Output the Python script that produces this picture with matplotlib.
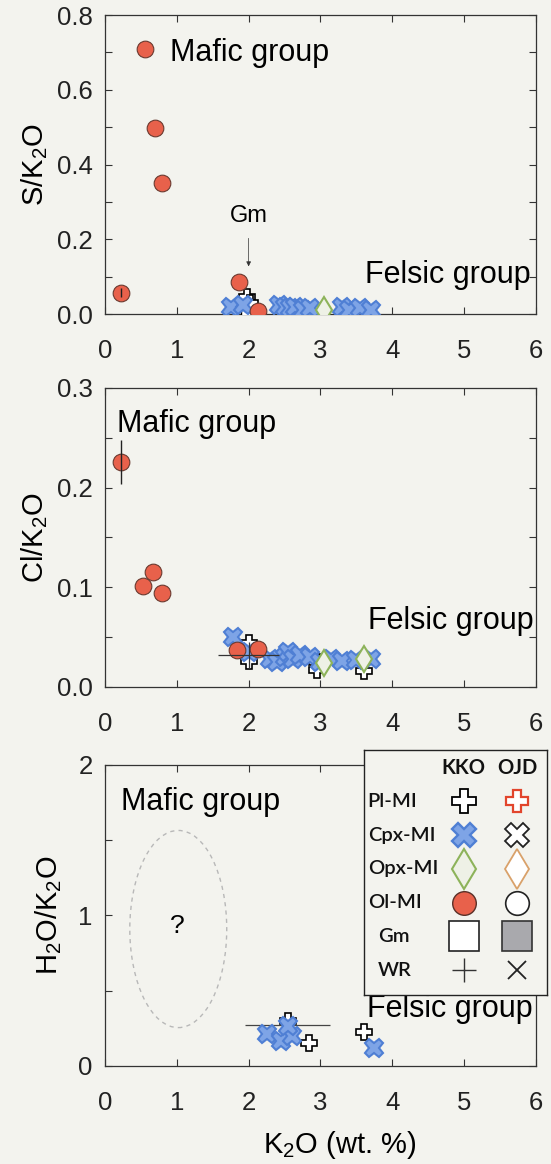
import matplotlib
matplotlib.use("Agg")
import matplotlib.pyplot as plt
from matplotlib.patches import Ellipse

plt.rcParams['font.family'] = ['Liberation Sans', 'DejaVu Sans']
plt.rcParams['mathtext.fontset'] = 'custom'
plt.rcParams['mathtext.rm'] = 'Liberation Sans'

BG = '#f3f3ee'
RED = '#e8614b'
BLUE = '#4f7fd4'
GREEN = '#8db35a'
TICK_FS = 18.5
TXT_FS = 22
LAB_FS = 21

# ---- S/K2O panel ----
s_ol_x = [0.22, 0.56, 0.7, 0.8, 1.86, 2.13]
s_ol_y = [0.057, 0.708, 0.497, 0.35, 0.086, 0.008]
s_cpx_x = [1.75, 1.92, 2.42, 2.5, 2.58, 2.65, 2.75, 2.85, 3.3, 3.4, 3.55, 3.7]
s_cpx_y = [0.02, 0.025, 0.025, 0.02, 0.015, 0.02, 0.01, 0.015, 0.02, 0.01, 0.015, 0.01]
s_pl_x = [1.98, 2.02, 2.65, 2.88]
s_pl_y = [0.045, 0.03, 0.005, 0.005]
s_gm_x = [2.0, 2.85]
s_gm_y = [0.005, 0.003]
s_opx_x = [3.05]
s_opx_y = [0.01]

# ---- Cl/K2O panel ----
c_ol_x = [0.22, 0.53, 0.67, 0.79, 1.84, 2.13]
c_ol_y = [0.226, 0.101, 0.115, 0.094, 0.037, 0.038]
c_cpx_x = [1.78, 2.0, 2.3, 2.4, 2.5, 2.55, 2.62, 2.72, 2.85, 3.0, 3.15, 3.3, 3.5, 3.7]
c_cpx_y = [0.05, 0.035, 0.028, 0.025, 0.03, 0.035, 0.028, 0.032, 0.03, 0.025, 0.028, 0.026, 0.027, 0.028]
c_pl_x = [2.0, 2.0, 2.95, 2.95, 3.6]
c_pl_y = [0.044, 0.026, 0.025, 0.017, 0.016]
c_opx_x = [3.05, 3.6]
c_opx_y = [0.024, 0.028]
c_wr_x = [2.0]
c_wr_y = [0.032]

# ---- H2O/K2O panel ----
h_cpx_x = [2.26, 2.45, 2.6, 2.55, 3.75]
h_cpx_y = [0.21, 0.166, 0.2, 0.265, 0.12]
h_pl_x = [2.55, 2.84, 3.6]
h_pl_y = [0.3, 0.155, 0.225]
h_wr_x = [2.54]
h_wr_y = [0.27]

# legend content
leg_rows = ['Pl-MI', 'Cpx-MI', 'Opx-MI', 'Ol-MI', 'Gm', 'WR']
leg_cols = ['KKO', 'OJD']


def style_axes(ax, ymax, major, minor, fmt):
    ax.set_facecolor(BG)
    ax.set_xlim(0, 6)
    ax.set_ylim(0, ymax)
    ax.set_xticks(range(0, 7))
    ax.set_yticks([i * major for i in range(int(round(ymax / major)) + 1)])
    ax.set_yticks([minor + i * major for i in range(int(round(ymax / major)))], minor=True)
    ax.yaxis.set_major_formatter(plt.FormatStrFormatter(fmt))
    ax.tick_params(which='both', direction='in', top=True, right=True,
                   labelsize=TICK_FS, length=5, width=0.8, colors='#333333',
                   labelcolor='#222222')
    ax.tick_params(axis='y', which='major', pad=9)
    ax.tick_params(axis='x', which='major', pad=18)
    for sp in ax.spines.values():
        sp.set_linewidth(0.9)
        sp.set_color('#333333')


def plus(ax, x, y, ec='black', ms=11):
    ax.plot(x, y, 'P', ms=ms, mfc='white', mec=ec, mew=1.2, ls='none', zorder=4)


def cpx(ax, x, y, ms=13):
    ax.plot(x, y, 'X', ms=ms, mfc='#7ea4e6', mec=BLUE, mew=1.5, ls='none', zorder=5)


def ol(ax, x, y, ms=12):
    ax.plot(x, y, 'o', ms=ms, mfc=RED, mec='#6a3a30', mew=0.8, ls='none', zorder=6)


def opx(ax, x, y, ms=13):
    ax.plot(x, y, 'd', ms=ms, mfc='#eef1e6', mec=GREEN, mew=1.5, ls='none', zorder=5)


fig = plt.figure(figsize=(5.51, 11.64), dpi=100, facecolor=BG)

# panel 1
ax1 = fig.add_axes([0.1906, 0.7302, 0.782, 0.2569])
style_axes(ax1, 0.8, 0.2, 0.1, '%.1f')
ax1.errorbar([s_ol_x[0]], [s_ol_y[0]], yerr=0.012, fmt='none', ecolor='#222', lw=1, zorder=7)
ol(ax1, s_ol_x, s_ol_y)
plus(ax1, s_pl_x, s_pl_y, ms=11)
ax1.plot(s_gm_x, s_gm_y, 's', ms=11, mfc='white', mec='black', mew=1, ls='none', zorder=3)
cpx(ax1, s_cpx_x, s_cpx_y)
opx(ax1, s_opx_x, s_opx_y)
ax1.set_ylabel('S/K$_2$O', fontsize=LAB_FS, labelpad=5)
ax1.text(0.9, 0.698, 'Mafic group', fontsize=TXT_FS, va='center')
ax1.text(5.93, 0.105, 'Felsic group', fontsize=TXT_FS, va='center', ha='right')
ax1.text(2.0, 0.262, 'Gm', fontsize=17, ha='center', va='center')
ax1.annotate('', xy=(2.0, 0.12), xytext=(2.0, 0.21),
             arrowprops=dict(arrowstyle='-|>', lw=0.5, color='#333333',
                             mutation_scale=7))

# panel 2
ax2 = fig.add_axes([0.1906, 0.4098, 0.782, 0.2569])
style_axes(ax2, 0.3, 0.1, 0.05, '%.1f')
ax2.errorbar([c_ol_x[0]], [c_ol_y[0]], yerr=0.022, fmt='none', ecolor='#222', lw=1, zorder=7)
ax2.errorbar(c_wr_x, c_wr_y, xerr=0.42, yerr=0.013, fmt='none', ecolor='#333', lw=0.9, zorder=8)
ol(ax2, c_ol_x, c_ol_y)
plus(ax2, c_pl_x, c_pl_y, ms=11)
cpx(ax2, c_cpx_x, c_cpx_y)
opx(ax2, c_opx_x, c_opx_y)
ax2.set_ylabel('Cl/K$_2$O', fontsize=LAB_FS, labelpad=5)
ax2.text(0.17, 0.264, 'Mafic group', fontsize=TXT_FS, va='center')
ax2.text(5.97, 0.066, 'Felsic group', fontsize=TXT_FS, va='center', ha='right')

# panel 3
ax3 = fig.add_axes([0.1906, 0.0842, 0.782, 0.2586])
style_axes(ax3, 2.0, 1.0, 0.5, '%d')
ax3.errorbar(h_wr_x, h_wr_y, xerr=0.59, fmt='none', ecolor='#444', lw=0.9, zorder=3)
cpx(ax3, h_cpx_x, h_cpx_y)
plus(ax3, h_pl_x, h_pl_y, ms=11)
ax3.add_patch(Ellipse((1.02, 0.91), 1.35, 1.31, fill=False, ls=(0, (3, 3)),
                      ec='#b8b8b8', lw=1.0))
ax3.text(1.0, 0.93, '?', fontsize=19, ha='center', va='center')
ax3.set_ylabel('H$_2$O/K$_2$O', fontsize=LAB_FS, labelpad=10)
ax3.set_xlabel('K$_2$O (wt. %)', fontsize=LAB_FS)
ax3.xaxis.set_label_coords(0.545, -0.21)
ax3.text(0.22, 1.757, 'Mafic group', fontsize=TXT_FS, va='center')
ax3.text(5.95, 0.38, 'Felsic group', fontsize=TXT_FS, va='center', ha='right')

# legend box drawn as its own small axes
axl = fig.add_axes([0.6606, 0.1452, 0.332, 0.2105])
axl.set_facecolor(BG)
axl.set_xlim(0, 1)
axl.set_ylim(-5.733, 1.524)
axl.set_xticks([])
axl.set_yticks([])
for sp in axl.spines.values():
    sp.set_linewidth(1.0)
    sp.set_color('#222222')
col_x = [0.546, 0.836]
lfont = dict(family=['Lato', 'DejaVu Sans'], fontsize=14.5, color='#111111')
for j, c in enumerate(leg_cols):
    axl.text(col_x[j], 1.0, c, ha='center', va='center', fontweight='bold', **lfont)
for i, r in enumerate(leg_rows):
    xl = 0.02 if i < 4 else 0.075
    axl.text(xl, -i, r, ha='left', va='center', fontweight='semibold', **lfont)
ms = 17
axl.plot([col_x[0]], [0], 'P', ms=ms, mfc='white', mec='black', mew=1.3)
axl.plot([col_x[1]], [0], 'P', ms=ms - 1, mfc='white', mec='#e2452c', mew=1.6)
axl.plot([col_x[0]], [-1], 'X', ms=ms, mfc='#7ea4e6', mec=BLUE, mew=1.7)
axl.plot([col_x[1]], [-1], 'X', ms=ms, mfc='white', mec='#222222', mew=1.3)
axl.plot([col_x[0]], [-2], 'd', ms=ms + 3, mfc='#eef1e6', mec=GREEN, mew=1.5)
axl.plot([col_x[1]], [-2], 'd', ms=ms + 3, mfc='white', mec='#d9a16a', mew=1.3)
axl.plot([col_x[0]], [-3], 'o', ms=ms, mfc=RED, mec='#5a3028', mew=1.0)
axl.plot([col_x[1]], [-3], 'o', ms=ms, mfc='white', mec='#222222', mew=1.2)
axl.plot([col_x[0]], [-4], 's', ms=ms + 4, mfc='white', mec='#222222', mew=1.2)
axl.plot([col_x[1]], [-4], 's', ms=ms + 4, mfc='#a9a9ad', mec='#333333', mew=1.2)
axl.plot([col_x[0]], [-5], '+', ms=ms, mec='#333333', mew=1.0)
axl.plot([col_x[1]], [-5], 'x', ms=ms - 4, mec='#222222', mew=1.3)

fig.savefig('out.png', dpi=100, facecolor=BG)
